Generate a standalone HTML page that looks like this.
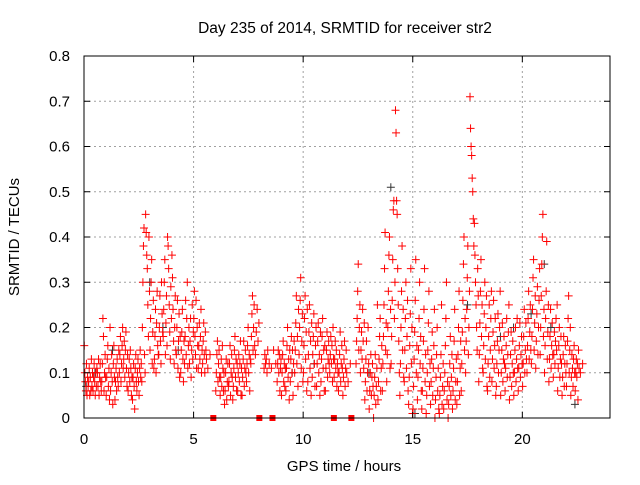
<!DOCTYPE html>
<html><head><meta charset="utf-8"><style>
body{margin:0;background:#fff}
svg text{font-family:"Liberation Sans",sans-serif;font-size:15px;fill:#000}
</style></head><body>
<svg id="chart" width="640" height="480" xmlns="http://www.w3.org/2000/svg">
<text x="345" y="33" text-anchor="middle" style="font-size:15.5px">Day 235 of 2014, SRMTID for receiver str2</text>
<text x="344" y="471" text-anchor="middle">GPS time / hours</text>
<text transform="translate(19,237) rotate(-90)" text-anchor="middle">SRMTID / TECUs</text>
<g id="grid"></g><g id="marks"></g><g id="axes"></g>
</svg>
<script>
const xTicks=[0,5,10,15,20];
const yTicks=[0,0.1,0.2,0.3,0.4,0.5,0.6,0.7,0.8];
const yTickLabels=["0","0.1","0.2","0.3","0.4","0.5","0.6","0.7","0.8"];
const binStart=[0.0,0.2,0.4,0.6,0.8,1.0,1.2,1.4,1.6,1.8,2.0,2.2,2.4,2.6,2.8,3.0,3.2,3.4,3.6,3.8,4.0,4.2,4.4,4.6,4.8,5.0,5.2,5.4,5.6,5.8,6.0,6.2,6.4,6.6,6.8,7.0,7.2,7.4,7.6,7.8,8.0,8.2,8.4,8.6,8.8,9.0,9.2,9.4,9.6,9.8,10.0,10.2,10.4,10.6,10.8,11.0,11.2,11.4,11.6,11.8,12.0,12.2,12.4,12.6,12.8,13.0,13.2,13.4,13.6,13.8,14.0,14.2,14.4,14.6,14.8,15.0,15.2,15.4,15.6,15.8,16.0,16.2,16.4,16.6,16.8,17.0,17.2,17.4,17.6,17.8,18.0,18.2,18.4,18.6,18.8,19.0,19.2,19.4,19.6,19.8,20.0,20.2,20.4,20.6,20.8,21.0,21.2,21.4,21.6,21.8,22.0,22.2,22.4,22.6];
const binValues=[
[.16,.10,.08,.06,.12,.05,.09,.07],[.08,.11,.05,.09,.06,.13,.07,.10],[.06,.09,.12,.08,.05,.10,.07,.11],[.10,.07,.13,.05,.09,.12,.08,.06],
[.08,.12,.22,.18,.06,.10,.14,.09],[.05,.09,.13,.16,.07,.11,.04,.20],[.06,.10,.14,.08,.03,.12,.16,.09],[.04,.08,.11,.06,.13,.09,.07,.15],
[.10,.14,.18,.08,.12,.16,.20,.11],[.13,.17,.09,.15,.19,.11,.07,.14],[.06,.10,.13,.08,.15,.11,.05,.09],[.04,.09,.12,.07,.02,.11,.14,.08],
[.06,.10,.13,.08,.05,.11,.15,.09],[.12,.08,.20,.30,.38,.42,.14,.10],[.45,.41,.36,.33,.25,.18,.40,.28],[.15,.22,.30,.35,.12,.19,.26,.11],
[.13,.18,.24,.10,.21,.28,.16,.14],[.14,.20,.27,.17,.12,.30,.23,.19],[.18,.24,.30,.35,.14,.21,.27,.16],[.40,.38,.33,.25,.19,.13,.29,.22],
[.36,.31,.24,.17,.12,.20,.27,.15],[.14,.20,.26,.11,.17,.23,.09,.18],[.10,.15,.19,.24,.13,.08,.17,.12],[.18,.26,.14,.22,.30,.11,.16,.20],
[.12,.17,.22,.09,.15,.25,.13,.19],[.22,.28,.18,.14,.26,.11,.20,.16],[.11,.16,.21,.13,.18,.24,.10,.15],[.12,.17,.21,.14,.10,.19,.15,.13],
[.11,.14],[],[.06,.10,.14,.17,.08,.12,.15,.09],[.05,.09,.13,.07,.16,.11,.06,.10],
[.03,.06,.10,.13,.04,.08,.12,.07],[.08,.12,.16,.05,.10,.14,.09,.04],[.07,.11,.15,.18,.09,.13,.06,.12],[.06,.10,.14,.08,.12,.17,.05,.11],
[.05,.09,.13,.17,.07,.11,.15,.10],[.08,.12,.16,.20,.10,.14,.06,.13],[.12,.18,.23,.27,.15,.20,.25,.16],[.14,.19,.24,.17,.21],
[],[.11,.14,.12,.13,.10,.15],[.12,.11],[.15,.12],
[.08,.12,.15,.10,.14,.06,.11,.13],[.05,.10,.14,.17,.08,.12,.07,.11],[.06,.11,.16,.20,.09,.13,.04,.15],[.08,.13,.18,.10,.15,.05,.12,.17],
[.10,.15,.21,.27,.12,.18,.07,.24],[.14,.20,.26,.31,.11,.17,.23,.08],[.10,.16,.22,.27,.13,.19,.06,.24],[.08,.14,.19,.25,.11,.17,.05,.21],
[.09,.14,.18,.23,.12,.07,.16,.20],[.07,.12,.17,.21,.10,.14,.05,.19],[.08,.13,.18,.22,.11,.15,.06,.16],[.06,.11,.15,.19,.09,.13,.17,.12],
[.10,.14,.18,.12,.16,.08,.20,.13],[.09,.13,.17,.11,.15,.07,.12,.10],[.06,.10,.14,.19,.08,.12,.16,.11],[.05,.09,.13,.17,.07,.11,.15,.10],
[.08,.12],[],[.12,.17,.22,.28,.34,.15,.20,.25],[.10,.15,.19,.13,.24,.17,.11,.21],
[.04,.08,.13,.17,.06,.10,.20,.12],[.02,.06,.10,.14,.05,.09,.12,.07],[.00,.05,.09,.14,.03,.07,.11,.25],[.04,.08,.13,.18,.22,.06,.11,.16],
[.06,.12,.18,.25,.33,.41,.15,.21],[.08,.14,.20,.28,.36,.40,.11,.24],[.12,.18,.26,.35,.46,.48,.22,.30],[.68,.63,.48,.45,.33,.25,.17,.10],
[.05,.12,.20,.28,.38,.15,.24,.09],[.08,.15,.22,.30,.11,.18,.26,.06],[.03,.09,.16,.23,.33,.12,.20,.01],[.02,.07,.13,.19,.26,.35,.10,.16],
[.04,.09,.15,.22,.30,.12,.18,.06],[.02,.06,.11,.17,.24,.33,.08,.14],[.01,.05,.10,.15,.21,.28,.07,.12],[.03,.08,.13,.19,.05,.11,.16,.24],
[.00,.04,.09,.14,.20,.06,.11,.02],[.01,.05,.09,.14,.25,.03,.07,.12],[.02,.06,.10,.16,.22,.30,.04,.08],[.00,.03,.07,.12,.18,.05,.09,.14],
[.02,.06,.11,.17,.24,.04,.08,.13],[.03,.08,.14,.20,.28,.05,.11,.17],[.06,.12,.19,.26,.34,.40,.15,.22],[.10,.17,.24,.31,.38,.14,.20,.28],
[.71,.64,.60,.58,.53,.50,.44,.38],[.43,.36,.30,.25,.20,.15,.33,.27],[.08,.14,.21,.28,.35,.18,.25,.11],[.10,.16,.23,.30,.13,.20,.27,.07],
[.06,.12,.18,.25,.09,.15,.22,.28],[.08,.13,.19,.26,.11,.16,.22,.05],[.07,.12,.17,.23,.10,.15,.20,.28],[.05,.10,.15,.21,.08,.13,.18,.12],
[.06,.11,.16,.22,.09,.14,.19,.25],[.04,.09,.14,.19,.07,.12,.17,.10],[.05,.10,.15,.20,.08,.13,.22,.11],[.06,.11,.16,.21,.09,.14,.18,.12],
[.07,.12,.18,.24,.10,.15,.21,.13],[.10,.16,.22,.28,.13,.19,.25,.15],[.12,.18,.24,.31,.35,.15,.21,.27],[.11,.17,.23,.29,.14,.20,.26,.33],
[.14,.20,.27,.34,.40,.45,.18,.24],[.10,.16,.22,.28,.39,.13,.19,.25],[.08,.13,.18,.24,.11,.16,.21,.14],[.09,.14,.19,.12,.17,.22,.15,.25],
[.06,.11,.16,.20,.09,.13,.18,.12],[.05,.09,.14,.18,.07,.12,.16,.10],[.07,.12,.17,.22,.27,.10,.15,.20],[.05,.09,.14,.11,.07,.13,.16,.10],
[.06,.10,.13,.09,.12,.04,.15,.11],[.10,.12]];
const blackHours=[0.1,0.5,1.3,3.0,3.6,4.3,9.5,10.5,13.0,14.0,15.1,17.5,19.0,19.6,20.4,21.0,21.3,22.4];
const blackValues=[.07,.10,.15,.30,.20,.15,.10,.12,.10,.51,.01,.25,.18,.20,.23,.34,.20,.03];
const zeroHours=[5.9,8.0,8.6,11.4,12.2];

const X0=84,X1=610,Y0=418,Y1=56,XMAX=24,YMAX=0.8;
const sx=h=>X0+h/XMAX*(X1-X0);
const sy=v=>Y0-v/YMAX*(Y0-Y1);
const NS="http://www.w3.org/2000/svg";
function mk(tag,attrs,parent){const e=document.createElementNS(NS,tag);for(const k in attrs)e.setAttribute(k,attrs[k]);parent.appendChild(e);return e;}
const grid=document.getElementById('grid'),marks=document.getElementById('marks'),axes=document.getElementById('axes');
xTicks.forEach(t=>{
  const x=sx(t);
  if(t>0){const g=mk('line',{x1:x,x2:x,y1:Y0,y2:Y1,stroke:'#a0a0a0','stroke-dasharray':'2,3'},grid);
  
  }
  mk('line',{x1:x,x2:x,y1:Y0,y2:Y0-6,stroke:'#000'},axes);
  mk('line',{x1:x,x2:x,y1:Y1,y2:Y1+6,stroke:'#000'},axes);
  const tx=mk('text',{x:x,y:Y0+26,'text-anchor':'middle'},axes);tx.textContent=String(t);
  
  
});
yTicks.forEach((t,i)=>{
  const y=sy(t);
  if(t>0&&t<YMAX){const g=mk('line',{x1:X0,x2:X1,y1:y,y2:y,stroke:'#a0a0a0','stroke-dasharray':'2,3'},grid);
  
  }
  mk('line',{x1:X0,x2:X0+6,y1:y,y2:y,stroke:'#000'},axes);
  mk('line',{x1:X1,x2:X1-6,y1:y,y2:y,stroke:'#000'},axes);
  const tx=mk('text',{x:X0-14,y:y+5,'text-anchor':'end'},axes);tx.textContent=yTickLabels[i];
  
  
});
const frame=mk('rect',{x:X0,y:Y1,width:X1-X0,height:Y0-Y1,fill:'none',stroke:'#000'},axes);


function plus(x,y,c,name){
  const p=mk('path',{d:`M${x-4},${y}h8M${x},${y-4}v8`,stroke:c,'stroke-width':1,fill:'none'},marks);
  
  
}
blackHours.forEach((h,i)=>plus(sx(h),sy(blackValues[i]),'#333','black-point'));
binStart.forEach((h,i)=>{
  const vals=binValues[i];
  vals.forEach((v,j)=>plus(sx(h+0.2*(j+0.5)/vals.length),sy(v),'#ff0000','srmtid-point'));
});
zeroHours.forEach(h=>{
  const r=mk('rect',{x:sx(h)-3,y:Y0-3,width:6,height:6,fill:'#ff0000'},marks);
  
  
});
</script>
</body></html>
